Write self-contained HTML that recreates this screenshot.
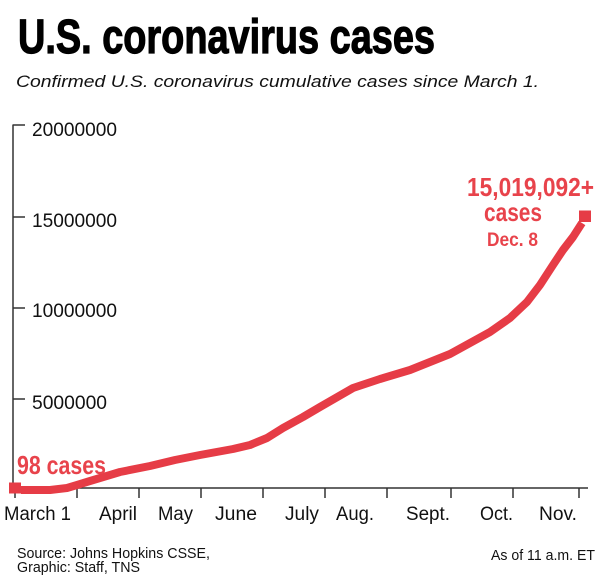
<!DOCTYPE html>
<html>
<head>
<meta charset="utf-8">
<style>
  html, body { margin: 0; padding: 0; background: #ffffff; }
  body { width: 600px; height: 582px; overflow: hidden; }
  svg { display: block; }
  .t { font-family: "Liberation Sans", "DejaVu Sans", sans-serif; }
</style>
</head>
<body>
<svg width="600" height="582" viewBox="0 0 600 582" xmlns="http://www.w3.org/2000/svg">
  <rect x="0" y="0" width="600" height="582" fill="#ffffff"/>

  <!-- Title -->
  <text class="t" x="18" y="53" font-size="48" font-weight="bold" fill="#000" stroke="#000" stroke-width="1.2" textLength="417" lengthAdjust="spacingAndGlyphs">U.S. coronavirus cases</text>
  <!-- Subtitle -->
  <text class="t" x="16" y="87" font-size="17" font-style="italic" fill="#111" textLength="523" lengthAdjust="spacingAndGlyphs">Confirmed U.S. coronavirus cumulative cases since March 1.</text>

  <!-- Y axis -->
  <g stroke="#333" stroke-width="1.5" fill="none">
    <line x1="13" y1="124.5" x2="13" y2="488"/>
    <line x1="13" y1="125" x2="25" y2="125"/>
    <line x1="13" y1="217" x2="25" y2="217"/>
    <line x1="13" y1="308" x2="25" y2="308"/>
    <line x1="13" y1="399" x2="25" y2="399"/>
  </g>
  <g class="t" font-size="19" fill="#111">
    <text x="32" y="136" textLength="85" lengthAdjust="spacingAndGlyphs">20000000</text>
    <text x="32" y="227" textLength="85" lengthAdjust="spacingAndGlyphs">15000000</text>
    <text x="32" y="317" textLength="85" lengthAdjust="spacingAndGlyphs">10000000</text>
    <text x="32" y="409" textLength="75" lengthAdjust="spacingAndGlyphs">5000000</text>
  </g>

  <!-- X axis -->
  <g stroke="#333" stroke-width="1.5" fill="none">
    <line x1="13" y1="488" x2="588" y2="488"/>
    <line x1="15" y1="488" x2="15" y2="498"/>
    <line x1="77" y1="488" x2="77" y2="498"/>
    <line x1="139" y1="488" x2="139" y2="498"/>
    <line x1="201" y1="488" x2="201" y2="498"/>
    <line x1="263" y1="488" x2="263" y2="498"/>
    <line x1="325" y1="488" x2="325" y2="498"/>
    <line x1="387" y1="488" x2="387" y2="498"/>
    <line x1="451" y1="488" x2="451" y2="498"/>
    <line x1="513" y1="488" x2="513" y2="498"/>
    <line x1="579" y1="488" x2="579" y2="498"/>
  </g>
  <g class="t" font-size="19" fill="#111">
    <text x="4" y="520" textLength="67" lengthAdjust="spacingAndGlyphs">March 1</text>
    <text x="99" y="520" textLength="38" lengthAdjust="spacingAndGlyphs">April</text>
    <text x="158" y="520" textLength="35" lengthAdjust="spacingAndGlyphs">May</text>
    <text x="215" y="520" textLength="42" lengthAdjust="spacingAndGlyphs">June</text>
    <text x="285" y="520" textLength="34" lengthAdjust="spacingAndGlyphs">July</text>
    <text x="336" y="520" textLength="38" lengthAdjust="spacingAndGlyphs">Aug.</text>
    <text x="406" y="520" textLength="44" lengthAdjust="spacingAndGlyphs">Sept.</text>
    <text x="480" y="520" textLength="33" lengthAdjust="spacingAndGlyphs">Oct.</text>
    <text x="539" y="520" textLength="38" lengthAdjust="spacingAndGlyphs">Nov.</text>
  </g>

  <!-- Data line -->
  <polyline fill="none" stroke="#e63c46" stroke-width="8" stroke-linejoin="round" stroke-linecap="butt"
    points="21,490 50,490 67,488 77,485 90,481 100,478 120,472 150,466 175,460 200,455 233,449 250,445 267,438 283,428 303,417 320,407 353,388 380,379 410,370 430,362 450,354 470,343 490,332 510,318 527,302 540,285 553,265 563,250 573,237 582,223"/>

  <!-- Markers -->
  <rect x="9" y="482.5" width="12" height="11" fill="#e63c46"/>
  <rect x="579" y="210.5" width="12" height="11.5" fill="#e63c46"/>

  <!-- Red annotations -->
  <g class="t" font-weight="bold" fill="#e8434b">
    <text x="17" y="474" font-size="26" textLength="89" lengthAdjust="spacingAndGlyphs">98 cases</text>
    <text x="467" y="196" font-size="26" textLength="127" lengthAdjust="spacingAndGlyphs">15,019,092+</text>
    <text x="484" y="221" font-size="26" textLength="58" lengthAdjust="spacingAndGlyphs">cases</text>
    <text x="487" y="246" font-size="19.5" textLength="51" lengthAdjust="spacingAndGlyphs">Dec. 8</text>
  </g>

  <!-- Footer -->
  <g class="t" font-size="15" fill="#111">
    <text x="17" y="558" textLength="193" lengthAdjust="spacingAndGlyphs">Source: Johns Hopkins CSSE,</text>
    <text x="17" y="572" textLength="123" lengthAdjust="spacingAndGlyphs">Graphic: Staff, TNS</text>
    <text x="491" y="560" textLength="104" lengthAdjust="spacingAndGlyphs">As of 11 a.m. ET</text>
  </g>
</svg>
</body>
</html>
